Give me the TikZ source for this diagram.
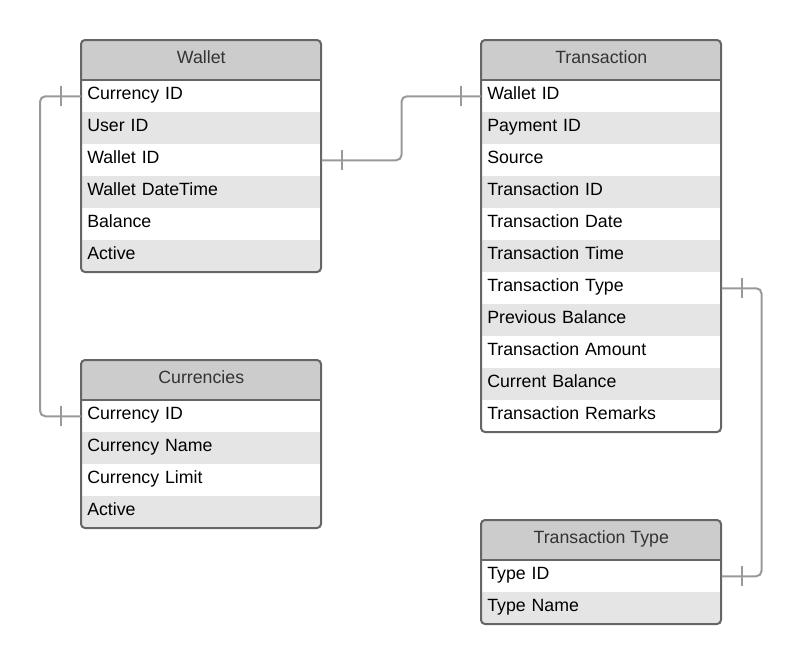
\documentclass[tikz,border=0pt]{standalone}
\usepackage{fontspec}
\setmainfont{Liberation Sans}
\usetikzlibrary{positioning}
\definecolor{tblline}{HTML}{666666}
\definecolor{headfill}{HTML}{CCCCCC}
\definecolor{headtext}{HTML}{333333}
\definecolor{linkgray}{HTML}{999999}

\begin{document}
\begin{tikzpicture}[x=0.75pt,y=-0.75pt,
  every node/.style={font=\fontsize{13.3}{15}\selectfont},
  headcell/.style={anchor=north west,fill=headfill,text=headtext,minimum width=180pt,minimum height=30pt,inner sep=0pt,text height=9pt,text depth=4pt},
  field/.style={anchor=north west,text width=171pt,align=left,inner xsep=4.5pt,inner ysep=0pt,minimum height=24pt,text height=9pt,text depth=4pt},
  frame/.style={draw=tblline,line width=1.5pt,rounded corners=3pt},
  link/.style={draw=linkgray,line width=1.5pt},
  relline/.style={link,rounded corners=4pt}]
\useasboundingbox (0,0) rectangle (802,664);

% Wallet
\begin{scope}
\clip[rounded corners=3pt] (81,40) rectangle (321,272);
\node[headcell] (wallet) at (81,40) {Wallet};
\foreach \f [count=\i, evaluate=\i as \g using {int(10*mod(\i+1,2))}] in
  {Currency ID,User ID,Wallet ID,Wallet DateTime,Balance,Active}{
\node[field,fill=black!\g] (w\i) at (81,48+32*\i) {\f};
}
\end{scope}
\draw[frame] (81,40) rectangle (321,272);
\draw[draw=tblline,line width=1.5pt] (81,80)--(321,80);

% Transaction
\begin{scope}
\clip[rounded corners=3pt] (481,40) rectangle (721,432);
\node[headcell] (trans) at (481,40) {Transaction};
\foreach \f [count=\i, evaluate=\i as \g using {int(10*mod(\i+1,2))}] in
  {Wallet ID,Payment ID,Source,Transaction ID,Transaction Date,Transaction Time,
   Transaction Type,Previous Balance,Transaction Amount,Current Balance,Transaction Remarks}{
\node[field,fill=black!\g] (t\i) at (481,48+32*\i) {\f};
}
\end{scope}
\draw[frame] (481,40) rectangle (721,432);
\draw[draw=tblline,line width=1.5pt] (481,80)--(721,80);

% Currencies
\begin{scope}
\clip[rounded corners=3pt] (81,360) rectangle (321,528);
\node[headcell] (curr) at (81,360) {Currencies};
\foreach \f [count=\i, evaluate=\i as \g using {int(10*mod(\i+1,2))}] in
  {Currency ID,Currency Name,Currency Limit,Active}{
\node[field,fill=black!\g] (c\i) at (81,368+32*\i) {\f};
}
\end{scope}
\draw[frame] (81,360) rectangle (321,528);
\draw[draw=tblline,line width=1.5pt] (81,400)--(321,400);

% Transaction Type
\begin{scope}
\clip[rounded corners=3pt] (481,520) rectangle (721,624);
\node[headcell] (ttype) at (481,520) {Transaction Type};
\foreach \f [count=\i, evaluate=\i as \g using {int(10*mod(\i+1,2))}] in
  {Type ID,Type Name}{
\node[field,fill=black!\g] (tt\i) at (481,528+32*\i) {\f};
}
\end{scope}
\draw[frame] (481,520) rectangle (721,624);
\draw[draw=tblline,line width=1.5pt] (481,560)--(721,560);

% relations
\draw[relline] (w1.west) -- ++(-41,0) |- (c1.west);
\draw[link] (w1.west) ++(-20,-10) -- ++(0,20);
\draw[link] (c1.west) ++(-20,-10) -- ++(0,20);

\draw[relline] (w3.east) -- ++(80,0) |- (t1.west);
\draw[link] (w3.east) ++(20,-10) -- ++(0,20);
\draw[link] (t1.west) ++(-20,-10) -- ++(0,20);

\draw[relline] (t7.east) -- ++(40,0) |- (tt1.east);
\draw[link] (t7.east) ++(20,-10) -- ++(0,20);
\draw[link] (tt1.east) ++(20,-10) -- ++(0,20);
\end{tikzpicture}
\end{document}
